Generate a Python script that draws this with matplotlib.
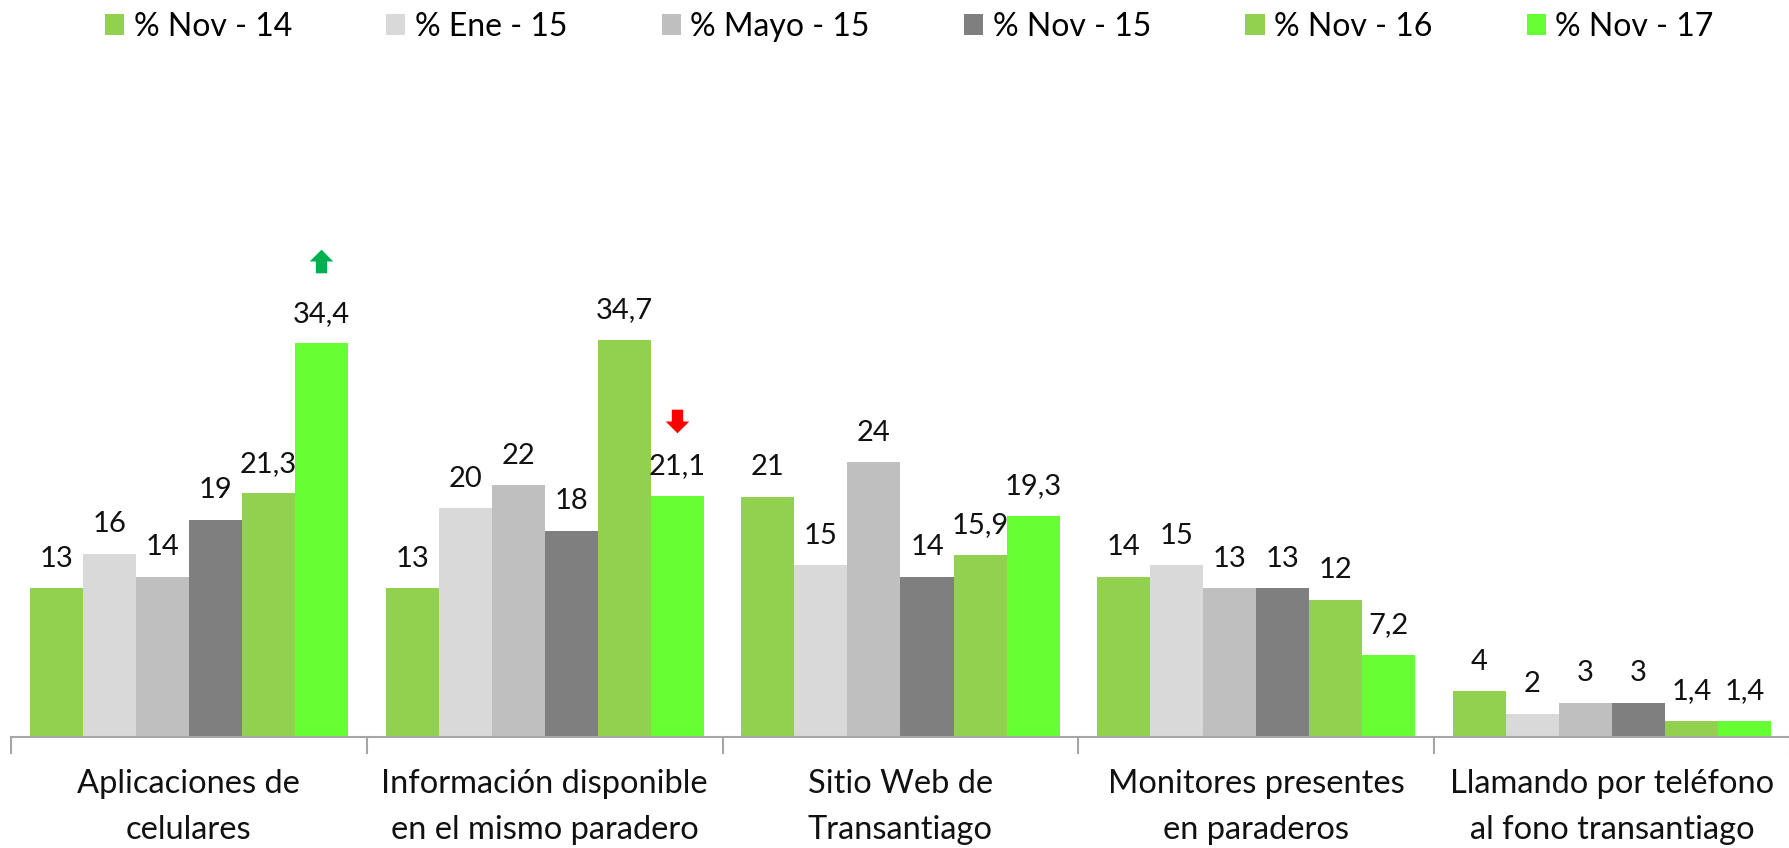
import matplotlib
matplotlib.use("Agg")
import matplotlib.pyplot as plt
import numpy as np
from matplotlib.path import Path

categories = [
    "Aplicaciones de\ncelulares",
    "Información disponible\nen el mismo paradero",
    "Sitio Web de\nTransantiago",
    "Monitores presentes\nen paraderos",
    "Llamando por teléfono\nal fono transantiago",
]
series_names = ["% Nov - 14", "% Ene - 15", "% Mayo - 15", "% Nov - 15", "% Nov - 16", "% Nov - 17"]
nov14 = [13, 13, 21, 14, 4]
ene15 = [16, 20, 15, 15, 2]
mayo15 = [14, 22, 24, 13, 3]
nov15 = [19, 18, 14, 13, 3]
nov16 = [21.3, 34.7, 15.9, 12, 1.4]
nov17 = [34.4, 21.1, 19.3, 7.2, 1.4]
colors = ["#92D050", "#D9D9D9", "#BFBFBF", "#7F7F7F", "#92D050", "#66FF33"]

# trend arrows: (category index, series index, value position)
trend_up = (0, 5, 41.6)
trend_down = (1, 5, 27.6)

plt.rcParams["font.family"] = ["Lato", "DejaVu Sans"]

fig = plt.figure(figsize=(17.9, 8.48), dpi=100)
ax = fig.add_axes([11 / 1790, (848 - 737) / 848, 1 - 11 / 1790, (737 - 165) / 848])

series = [nov14, ene15, mayo15, nov15, nov16, nov17]
n = len(series)
x = np.arange(len(categories))
w = 1 / (n + 0.71)


def fmt(v):
    if float(v).is_integer():
        return f"{int(v)}"
    return f"{v:.1f}".replace(".", ",")


for j, (vals, name, c) in enumerate(zip(series, series_names, colors)):
    pos = x + (j - (n - 1) / 2) * w
    ax.bar(pos, vals, width=w, color=c, label=name, edgecolor="none")
    for xi, v in zip(pos, vals):
        ax.annotate(fmt(v), (xi, v), xytext=(0, 12), textcoords="offset points",
                    ha="center", va="bottom", fontsize=21, color="#111111")

up_arrow = Path([(-0.5, 0), (0, 0.5), (0.5, 0), (0.24, 0), (0.24, -0.5), (-0.24, -0.5),
                 (-0.24, 0), (-0.5, 0)], closed=True)
down_arrow = Path([(-0.5, 0), (0, -0.5), (0.5, 0), (0.24, 0), (0.24, 0.5), (-0.24, 0.5),
                   (-0.24, 0), (-0.5, 0)], closed=True)
for (ci, sj, yv), mk, col in [(trend_up, up_arrow, "#00B050"), (trend_down, down_arrow, "#FF0000")]:
    ax.plot([x[ci] + (sj - (n - 1) / 2) * w], [yv], marker=mk, markersize=17,
            color=col, markeredgewidth=0, linestyle="none")

ax.set_xlim(-0.5, len(categories) - 0.5)
ax.set_ylim(0, 50)
for s in ["top", "right", "left"]:
    ax.spines[s].set_visible(False)
ax.spines["bottom"].set_color("#A6A6A6")
ax.spines["bottom"].set_linewidth(1.5)
ax.set_yticks([])
ax.set_xticks(np.arange(-0.5, len(categories), 1))
ax.set_xticklabels([])
ax.tick_params(axis="x", which="major", length=12, width=1.5, color="#A6A6A6")
ax.set_xticks(x, minor=True)
ax.set_xticklabels(categories, minor=True, fontsize=23.5, color="#111111", linespacing=1.65)
ax.tick_params(axis="x", which="minor", length=0, pad=23)

fig.legend(loc="upper center", bbox_to_anchor=(0.508, 1.02), ncol=6, frameon=False,
           fontsize=23, handlelength=0.6, handleheight=0.6, handletextpad=0.3,
           columnspacing=2.95)

fig.savefig("out.png", dpi=100)
